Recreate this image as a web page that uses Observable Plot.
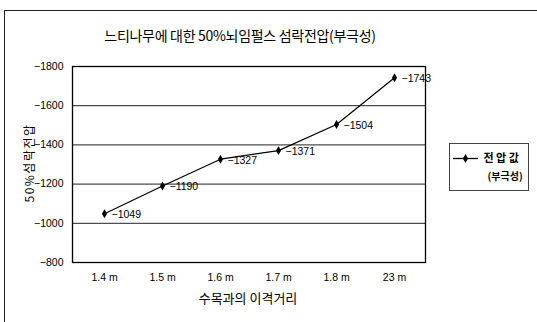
<!DOCTYPE html>
<html><head><meta charset="utf-8">
<script src="https://cdn.jsdelivr.net/npm/d3@7"></script>
<script src="https://cdn.jsdelivr.net/npm/@observablehq/plot@0.6"></script>
<style>
html,body{margin:0;padding:0;background:#fff;}
#wrap{position:relative;width:537px;height:322px;overflow:hidden;font-family:"Liberation Sans","Noto Sans CJK KR",sans-serif;color:#000;}
#border{position:absolute;left:4px;top:10px;width:560px;height:340px;border:1px solid #222;box-sizing:border-box;}
.t{position:absolute;white-space:nowrap;font-family:"Noto Sans CJK KR","Liberation Sans",sans-serif;color:#000;}
#legend{position:absolute;left:449px;top:143px;width:80px;height:48px;border:1px solid #444;box-sizing:border-box;}
</style></head>
<body><div id="wrap"><div id="chart"></div><div id="border"></div>
<div class="t" id="title" style="left:240px;top:35px;transform:translate(-50%,-50%);font-size:14px;letter-spacing:-0.3px;">느티나무에 대한 50%뇌임펄스 섬락전압(부극성)</div>
<div class="t" id="ylab" style="left:28px;top:163px;transform:translate(-50%,-50%) rotate(-90deg);font-size:12px;letter-spacing:1.5px;">50%섬락전압</div>
<div class="t" id="xlab" style="left:248px;top:297px;transform:translate(-50%,-50%);font-size:13px;">수목과의 이격거리</div>
<div id="legend"></div>
</div>
<script>
const categories = ["1.4 m","1.5 m","1.6 m","1.7 m","1.8 m","23 m"];
const values = [-1049,-1190,-1327,-1371,-1504,-1743];
const yTicks = [-1800,-1600,-1400,-1200,-1000,-800];
const seriesName = ["전 압 값","(부극성)"];

const data = categories.map((c,i)=>({x:c,y:values[i]}));
const fmt = v => "\u2212" + Math.abs(v);

const chart = Plot.plot({
  width:537, height:322,
  marginLeft:72, marginRight:112, marginTop:66, marginBottom:60,
  style:{fontFamily:'"Liberation Sans","Noto Sans CJK KR",sans-serif', fontSize:"10.5px", color:"#000", background:"transparent"},
  x:{type:"band", domain:categories, padding:0},
  y:{domain:[-800,-1800], ticks:yTicks},
  marks:[
    Plot.ruleY(yTicks.slice(1,-1), {stroke:"#222", strokeWidth:1}),
    Plot.frame({stroke:"#000", strokeWidth:1.3}),
    Plot.axisY({ticks:yTicks, tickSize:0, tickPadding:9, label:null, tickFormat:fmt, fontSize:10.5}),
    Plot.axisX({tickSize:0, tickPadding:11, label:null, fontSize:10.5}),
    Plot.line(data,{x:"x", y:"y", stroke:"#000", strokeWidth:1.2}),
    Plot.dot(data,{x:"x", y:"y", symbol:"diamond", r:2.7, fill:"#000", stroke:"none"}),
    Plot.text(data,{x:"x", y:"y", text:d=>fmt(d.y), dx:7, dy:1, textAnchor:"start", fontSize:10.5, fill:"#000"})
  ]
});
document.getElementById("chart").appendChild(chart);

const legendSvg = Plot.plot({
  width:78, height:46, margin:0,
  x:{domain:[0,78], axis:null}, y:{domain:[46,0], axis:null},
  style:{background:"transparent"},
  marks:[
    Plot.ruleY([14],{x1:3, x2:28, stroke:"#000", strokeWidth:1.3}),
    Plot.dot([{x:15,y:14}],{x:"x",y:"y",symbol:"diamond",r:2.7,fill:"#000"}),
    Plot.text([seriesName[0]],{x:33,y:14,text:d=>d,textAnchor:"start",fontSize:11,fontWeight:"bold",fontFamily:'"Noto Sans CJK KR",sans-serif',fill:"#000"}),
    Plot.text([seriesName[1]],{x:37,y:32,text:d=>d,textAnchor:"start",fontSize:10,fontWeight:"bold",fontFamily:'"Noto Sans CJK KR",sans-serif',fill:"#000"})
  ]
});
document.getElementById("legend").appendChild(legendSvg);
</script></body></html>
